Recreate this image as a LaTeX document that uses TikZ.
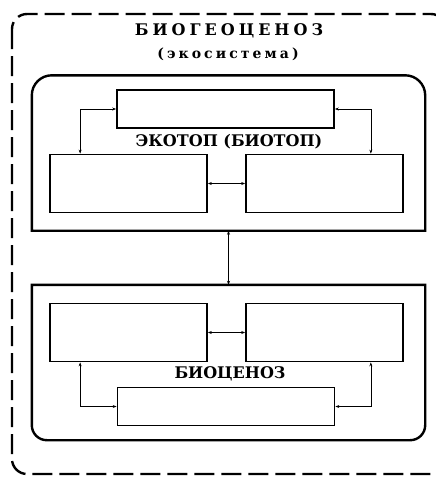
\documentclass[tikz,border=0pt]{standalone}
\usepackage{fontspec}
\setmainfont{DejaVu Serif}
\usetikzlibrary{arrows.meta}

\begin{document}
\begin{tikzpicture}[
						x=1pt,
						y=-1pt,
						font=\bfseries,
						frame/.style={line width=2.4pt},
						outer/.style={line width=2.4pt, dash pattern=on 20pt off 7pt, rounded corners=15pt},
						block/.style={draw, line width=1.7pt, minimum width=157pt, minimum height=58pt, inner sep=0pt},
						wide/.style={block, minimum width=217pt, minimum height=38pt},
						area/.style={minimum width=393pt, minimum height=155pt, inner sep=0pt},
						label/.style={font=\bfseries\fontsize{16}{18}\selectfont, inner sep=0pt},
						link/.style={{Stealth[length=4pt,width=3pt]}-{Stealth[length=4pt,width=3pt]}, line width=0.6pt}
					]
					\useasboundingbox (0,0) rectangle (436,477);
					% outer frame
					\draw[outer] (12,14) rectangle (446,474);
					\node[font=\bfseries\fontsize{16}{18}\selectfont\addfontfeatures{LetterSpace=25}, inner sep=0pt] (title) at (229,30.5) {БИОГЕОЦЕНОЗ};
					\node[font=\bfseries\fontsize{14}{16}\selectfont\addfontfeatures{LetterSpace=22}, inner sep=0pt] (subtitle) at (228,54) {(экосистема)};
					% ecotop
					\node[area] (ecotop) at (228.5,153) {};
					\draw[frame] (ecotop.south west) [rounded corners=20pt] -- (ecotop.north west) -- (ecotop.north east) [sharp corners] -- (ecotop.south east) -- cycle;
					\node[wide] (climate) at (225.5,109) {};
					\node[block] (soil) at (128.5,183.5) {};
					\node[block] (water) at (324.5,183.5) {};
					\node[label] (ecotoplabel) at (229,142) {ЭКОТОП (БИОТОП)};
					\draw[link] (climate.west) -| ([xshift=31pt]soil.north west);
					\draw[link] (climate.east) -| ([xshift=-33pt]water.north east);
					\draw[link] (soil.east) -- (water.west);
					% biocenosis
					\node[area] (biocenosis) at (228.5,362.5) {};
					\draw[frame] (biocenosis.north east) [rounded corners=15pt] -- (biocenosis.south east) -- (biocenosis.south west) [sharp corners] -- (biocenosis.north west) -- cycle;
					\node[block] (plants) at (128.5,332.5) {};
					\node[block] (animals) at (324.5,332.5) {};
					\node[wide] (microbes) at (226,406.5) {};
					\node[label] (biolabel) at (230,374) {БИОЦЕНОЗ};
					\draw[link] (microbes.west) -| ([xshift=31pt]plants.south west);
					\draw[link] (microbes.east) -| ([xshift=-33pt]animals.south east);
					\draw[link] (plants.east) -- (animals.west);
					\draw[link] (ecotop.south) -- (biocenosis.north);
				\end{tikzpicture}
\end{document}
